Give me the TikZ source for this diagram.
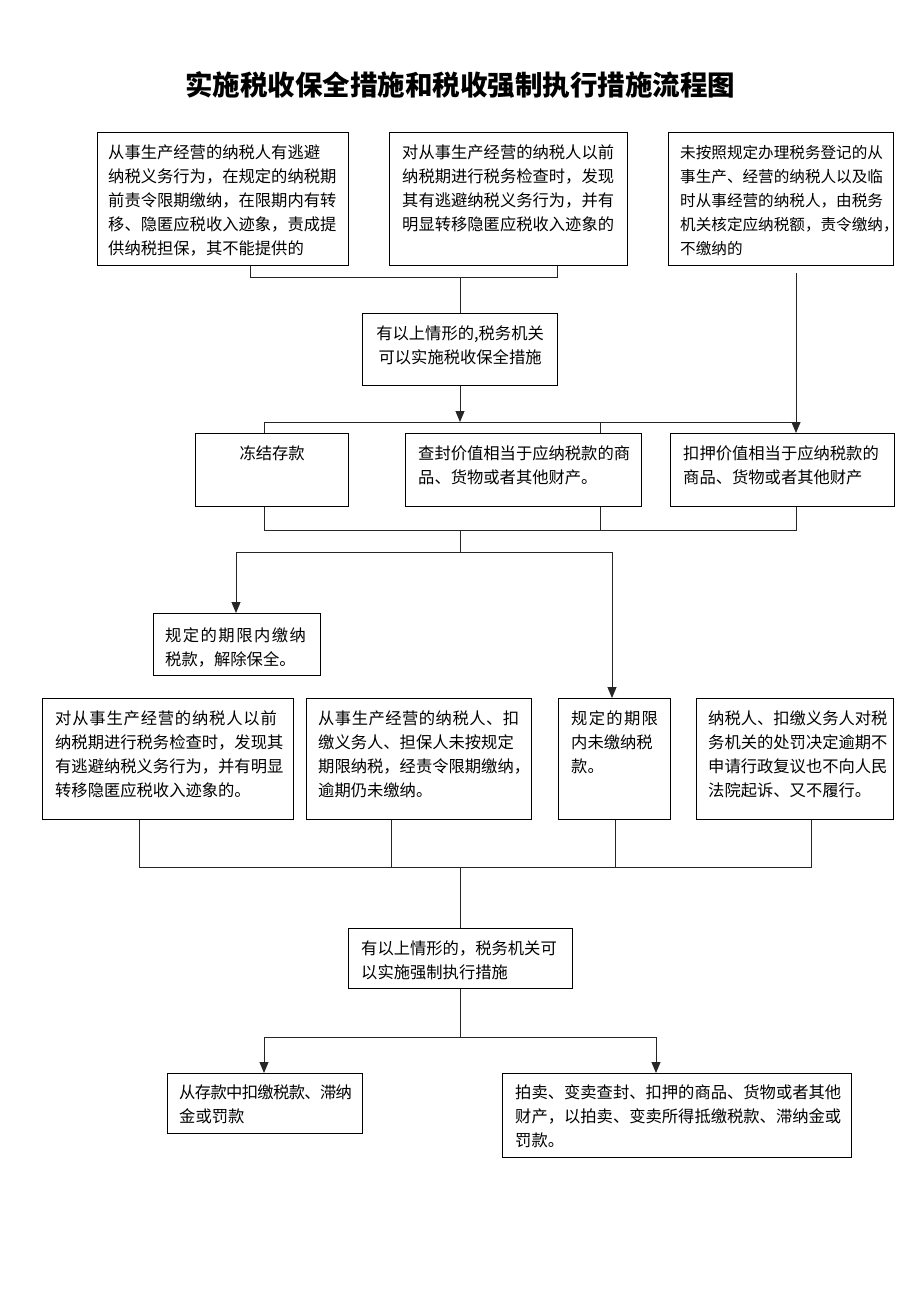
\documentclass[tikz,border=0pt]{standalone}
\usepackage{fontspec}
\newfontfamily\cjk{Noto Sans CJK SC}
\usetikzlibrary{arrows.meta}
\newcommand\tp{\rule{0pt}{14pt}}
\begin{document}
\begin{tikzpicture}[x=1pt,y=-1pt,
  box/.style={draw=black, line width=1.2pt, inner sep=0pt, anchor=north west},
  txt/.style={anchor=north west, align=left, inner sep=0pt, font=\cjk\fontsize{16.3}{24}\selectfont},
  ctxt/.style={anchor=north, align=center, inner sep=0pt, font=\cjk\fontsize{16.3}{24}\selectfont},
  ln/.style={draw=black!85, line width=0.9pt},
  arr/.style={ln, -{Triangle[length=11pt,width=9pt]}}]
\useasboundingbox (0,0) rectangle (920,1302);
\fill[white] (0,0) rectangle (920,1302);

% title
\node[font=\cjk\bfseries\fontsize{27.5}{30}\selectfont, inner sep=0pt] (title) at (460,85) {实施税收保全措施和税收强制执行措施流程图};

% boxes
\node[box, minimum width=251pt, minimum height=133pt] (A1) at (97,132) {};
\node[box, minimum width=238pt, minimum height=133pt] (A2) at (389,132) {};
\node[box, minimum width=225pt, minimum height=133pt] (A3) at (668,132) {};
\node[box, minimum width=195pt, minimum height=72pt] (B) at (362,313) {};
\node[box, minimum width=153pt, minimum height=73pt] (C1) at (195,433) {};
\node[box, minimum width=236pt, minimum height=73pt] (C2) at (405,433) {};
\node[box, minimum width=224pt, minimum height=73pt] (C3) at (670,433) {};
\node[box, minimum width=167pt, minimum height=62pt] (D1) at (153,613) {};
\node[box, minimum width=251pt, minimum height=121pt] (E1) at (42,698) {};
\node[box, minimum width=225pt, minimum height=121pt] (E2) at (306,698) {};
\node[box, minimum width=112pt, minimum height=121pt] (E3) at (558,698) {};
\node[box, minimum width=197pt, minimum height=121pt] (E4) at (696,698) {};
\node[box, minimum width=224pt, minimum height=60pt] (F) at (348,928) {};
\node[box, minimum width=195pt, minimum height=60pt] (G1) at (167,1073) {};
\node[box, minimum width=349pt, minimum height=84pt] (G2) at (502,1073) {};

% texts
\node[txt] (A1t) at ([shift={(11,12)}]A1.north west) {\tp{}从事生产经营的纳税人有逃避\\纳税义务行为，在规定的纳税期\\前责令限期缴纳，在限期内有转\\移、隐匿应税收入迹象，责成提\\供纳税担保，其不能提供的};
\node[txt] (A2t) at ([shift={(13,12)}]A2.north west) {\tp{}对从事生产经营的纳税人以前\\纳税期进行税务检查时，发现\\其有逃避纳税义务行为，并有\\明显转移隐匿应税收入迹象的};
\node[txt, font=\cjk\fontsize{15.6}{24}\selectfont] (A3t) at ([shift={(12,12)}]A3.north west) {\tp{}未按照规定办理税务登记的从\\事生产、经营的纳税人以及临\\时从事经营的纳税人，由税务\\机关核定应纳税额，责令缴纳\makebox[3pt][l]{，}\\不缴纳的};
\node[ctxt] (Bt) at ([shift={(0,12)}]B.north) {\tp{}有以上情形的,税务机关\\可以实施税收保全措施};
\node[ctxt] (C1t) at ([shift={(0,12)}]C1.north) {\tp{}冻结存款};
\node[txt] (C2t) at ([shift={(13,12)}]C2.north west) {\tp{}查封价值相当于应纳税款的商\\品、货物或者其他财产。};
\node[txt] (C3t) at ([shift={(13,12)}]C3.north west) {\tp{}扣押价值相当于应纳税款的\\商品、货物或者其他财产};
\node[txt] (D1t) at ([shift={(12,14)}]D1.north west) {\tp{}{\addfontfeature{LetterSpace=9}规定的期限内缴纳}\\税款，解除保全。};
\node[txt] (E1t) at ([shift={(13,12)}]E1.north west) {\tp{}\addfontfeature{LetterSpace=5}对从事生产经营的纳税人以前\\纳税期进行税务检查时，发现其\\有逃避纳税义务行为，并有明显\\转移隐匿应税收入迹象的。};
\node[txt] (E2t) at ([shift={(12,12)}]E2.north west) {\tp{}\addfontfeature{LetterSpace=3}从事生产经营的纳税人、扣\\缴义务人、担保人未按规定\\期限纳税，经责令限期缴纳，\\逾期仍未缴纳。};
\node[txt] (E3t) at ([shift={(13,12)}]E3.north west) {\tp{}\addfontfeature{LetterSpace=8}规定的期限\\内未缴纳税\\款。};
\node[txt] (E4t) at ([shift={(12,12)}]E4.north west) {\tp{}纳税人、扣缴义务人对税\\务机关的处罚决定逾期不\\申请行政复议也不向人民\\法院起诉、又不履行。};
\node[txt] (Ft) at ([shift={(13,12)}]F.north west) {\tp{}有以上情形的，税务机关可\\以实施强制执行措施};
\node[txt] (G1t) at ([shift={(12,11)}]G1.north west) {\tp{}\addfontfeature{LetterSpace=-4}从存款中扣缴税款、滞纳\\金或罚款};
\node[txt] (G2t) at ([shift={(13,11)}]G2.north west) {\tp{}拍卖、变卖查封、扣押的商品、货物或者其他\\财产，以拍卖、变卖所得抵缴税款、滞纳金或\\罚款。};

% junction coordinates
\coordinate (xa1) at (250,0);
\coordinate (xa2) at (557,0);
\coordinate (xc1) at (264,0);
\coordinate (xc2) at (600,0);
\coordinate (xc3) at (796,0);
\coordinate (xd) at (236,0);
\coordinate (xe3) at (612,0);
\coordinate (xe1) at (139,0);
\coordinate (xe2) at (391,0);
\coordinate (xe3b) at (615,0);
\coordinate (xe4) at (811,0);
\coordinate (xg2) at (656,0);
\coordinate (h1) at (460,277);
\coordinate (h2) at (460,422);
\coordinate (h3) at (460,530);
\coordinate (h4) at (460,552);
\coordinate (h5) at (460,867);
\coordinate (h6) at (460,1037);

% top: A1, A2 -> B
\draw[ln] (A1.south -| xa1) -- (h1 -| xa1) -- (h1 -| xa2) -- (A2.south -| xa2);
\draw[ln] (h1) -- (B.north -| h1);
% B -> C row
\draw[arr] (B.south -| h2) -- (h2);
\draw[ln] (C1.north -| xc1) -- (h2 -| xc1) -- (h2 -| xc3);
\draw[ln] (h2 -| xc2) -- (C2.north -| xc2);
\draw[arr] ([yshift=-7pt]A3.south -| xc3) -- (C3.north -| xc3);
% C row -> D1, E3
\draw[ln] (C1.south -| xc1) -- (h3 -| xc1) -- (h3 -| xc3) -- (C3.south -| xc3);
\draw[ln] (C2.south -| xc2) -- (h3 -| xc2);
\draw[ln] (h3) -- (h4);
\draw[arr] (h4) -| (D1.north -| xd);
\draw[arr] (h4) -| (E3.north -| xe3);
% E row -> F
\draw[ln] (E1.south -| xe1) -- (h5 -| xe1) -- (h5 -| xe4) -- (E4.south -| xe4);
\draw[ln] (E2.south -| xe2) -- (h5 -| xe2);
\draw[ln] (E3.south -| xe3b) -- (h5 -| xe3b);
\draw[ln] (h5) -- (F.north -| h5);
% F -> G
\draw[ln] (F.south -| h6) -- (h6);
\draw[arr] (h6) -| (G1.north -| xc1);
\draw[arr] (h6) -| (G2.north -| xg2);
\end{tikzpicture}
\end{document}
